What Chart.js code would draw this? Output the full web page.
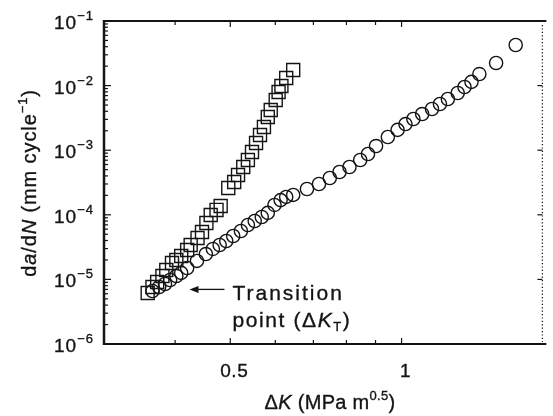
<!DOCTYPE html>
<html>
<head>
<meta charset="utf-8">
<script src="https://cdn.jsdelivr.net/npm/chart.js@4/dist/chart.umd.min.js"></script>
<style>
html,body{margin:0;padding:0;background:#fff;}
#wrap{width:553px;height:416px;position:relative;}
</style>
</head>
<body>
<div id="wrap"><canvas id="c" width="553" height="416"></canvas></div>
<script>
// ---- data (ΔK in MPa m^0.5, da/dN in mm/cycle) ----
const squareDK = [0.358,0.365,0.372,0.380,0.386,0.395,0.402,0.410,0.420,0.426,0.438,0.446,0.454,0.462,0.473,0.481,
                  0.496,0.508,0.516,0.527,0.537,0.546,0.555,0.564,0.573,0.582,0.589,0.601,0.608,0.615,0.627,0.645];
const squareRate = [6.16e-6,7.63e-6,9.12e-6,1.13e-5,1.40e-5,1.79e-5,2.00e-5,2.30e-5,2.85e-5,3.41e-5,4.37e-5,5.42e-5,7.47e-5,9.93e-5,1.19e-4,1.37e-4,
                    2.60e-4,3.22e-4,4.13e-4,5.49e-4,7.05e-4,9.38e-4,1.29e-3,1.72e-3,2.29e-3,3.27e-3,4.19e-3,5.98e-3,7.96e-3,9.86e-3,1.31e-2,1.74e-2];
const circleDK = [0.365,0.375,0.384,0.392,0.402,0.410,0.420,0.437,0.453,0.466,0.479,0.492,0.506,0.522,0.537,0.552,0.568,0.582,0.598,0.613,0.627,0.645,
                  0.682,0.716,0.748,0.778,0.810,0.846,0.873,0.902,0.946,0.984,1.016,1.049,1.087,1.131,1.168,1.206,1.255,1.290,1.327,1.370,1.466,1.587];
const circleRate = [6.61e-6,7.63e-6,8.49e-6,9.79e-6,1.13e-5,1.26e-5,1.50e-5,1.93e-5,2.47e-5,2.96e-5,3.41e-5,3.93e-5,4.70e-5,5.61e-5,6.95e-5,8.02e-5,9.24e-5,1.07e-4,1.42e-4,1.69e-4,1.89e-4,2.03e-4,
                    2.51e-4,3.00e-4,3.71e-4,4.60e-4,5.49e-4,7.05e-4,8.73e-4,1.16e-3,1.60e-3,2.06e-3,2.54e-3,3.04e-3,3.63e-3,4.34e-3,5.19e-3,6.20e-3,7.68e-3,9.51e-3,1.14e-2,1.51e-2,2.24e-2,4.25e-2];
const xLabelValues = [0.5, 1];
const xLabels = ['0.5', '1'];
const xOtherTicks = [0.4, 0.6, 0.7, 0.8, 0.9];
const yExponents = [-1, -2, -3, -4, -5, -6];
const yLabelBase = '10';
const xRange = [0.3, 1.768];
const yRange = [1e-6, 1e-1];
const annotationLines = ['Transition', 'point (ΔK'];
const transitionPoint = {x: 0.365, y: 7.0e-6};

const FONT = "'Liberation Sans', Arial, Helvetica, sans-serif";
const INK = '#141414';

function toXY(xs, ys) { return xs.map((v, i) => ({x: v, y: ys[i]})); }

function drawRuns(ctx, runs, x, y, align, spacing) {
  ctx.save();
  ctx.letterSpacing = (spacing || 0) + 'px';
  let total = 0;
  runs.forEach(r => { ctx.font = r.f; r.w = ctx.measureText(r.t).width; total += r.w; });
  let cx = align === 'center' ? x - total / 2 : (align === 'right' ? x - total : x);
  ctx.textAlign = 'left';
  ctx.textBaseline = 'alphabetic';
  ctx.lineWidth = 0.35;
  runs.forEach(r => {
    ctx.font = r.f;
    ctx.fillText(r.t, cx, y + (r.dy || 0));
    ctx.strokeText(r.t, cx, y + (r.dy || 0));
    cx += r.w;
  });
  ctx.restore();
}

const decor = {
  id: 'decor',
  afterDraw(chart) {
    const ctx = chart.ctx, xs = chart.scales.x, ys = chart.scales.y, a = chart.chartArea;
    ctx.save();
    ctx.fillStyle = INK; ctx.strokeStyle = INK;
    // frame
    ctx.lineWidth = 2.5;
    ctx.beginPath(); ctx.moveTo(a.left, a.top - 1); ctx.lineTo(a.left, a.bottom + 1); ctx.stroke();
    ctx.lineWidth = 2;
    ctx.beginPath(); ctx.moveTo(a.left - 1, a.bottom); ctx.lineTo(a.right + 4, a.bottom); ctx.stroke();
    ctx.beginPath(); ctx.moveTo(a.left - 1, a.top); ctx.lineTo(a.right + 4, a.top); ctx.stroke();
    // right dotted axis
    ctx.save(); ctx.lineWidth = 1.3; ctx.setLineDash([1.2, 2.2]);
    ctx.beginPath(); ctx.moveTo(a.right, a.top + 4); ctx.lineTo(a.right, a.bottom - 2); ctx.stroke();
    ctx.restore();
    // y ticks
    ctx.lineWidth = 1.2;
    for (let e = -6; e <= -1; e++) {
      for (let m = 1; m <= 9; m++) {
        const v = m * Math.pow(10, e);
        if (v < yRange[0] || v > yRange[1]) continue;
        const py = ys.getPixelForValue(v);
        const len = m === 1 ? 7 : 4;
        ctx.beginPath(); ctx.moveTo(a.left, py); ctx.lineTo(a.left + len, py); ctx.stroke();
        if (m === 1) { ctx.beginPath(); ctx.moveTo(a.right, py); ctx.lineTo(a.right - 5, py); ctx.stroke(); }
      }
    }
    // x ticks (top and bottom)
    xOtherTicks.concat(xLabelValues).forEach(v => {
      const px = xs.getPixelForValue(v);
      const len = xLabelValues.includes(v) ? 6 : 4;
      ctx.beginPath(); ctx.moveTo(px, a.bottom); ctx.lineTo(px, a.bottom - len); ctx.stroke();
      ctx.beginPath(); ctx.moveTo(px, a.top); ctx.lineTo(px, a.top + len); ctx.stroke();
    });
    // x tick labels
    xLabelValues.forEach((v, i) => {
      drawRuns(ctx, [{t: xLabels[i], f: '19px ' + FONT}], xs.getPixelForValue(v) + 4, a.bottom + 33, 'center', 0.6);
    });
    // y tick labels 10^e
    yExponents.forEach(e => {
      const py = ys.getPixelForValue(Math.pow(10, e));
      drawRuns(ctx, [{t: yLabelBase, f: '19px ' + FONT, dy: 0}, {t: '−' + Math.abs(e), f: '13px ' + FONT, dy: -9}],
        54, py + 8, 'left', 1);
    });
    // axis titles
    drawRuns(ctx, [
      {t: 'Δ', f: '20px ' + FONT}, {t: 'K', f: 'italic 20px ' + FONT},
      {t: ' (MPa m', f: '20px ' + FONT}, {t: '0.5', f: '13px ' + FONT, dy: -9},
      {t: ')', f: '20px ' + FONT}], 330, 409, 'center', 0.3);
    ctx.save();
    ctx.translate(36, 183); ctx.rotate(-Math.PI / 2);
    drawRuns(ctx, [
      {t: 'd', f: '20px ' + FONT}, {t: 'a', f: 'italic 20px ' + FONT},
      {t: '/d', f: '20px ' + FONT}, {t: 'N', f: 'italic 20px ' + FONT},
      {t: ' (mm cycle', f: '20px ' + FONT}, {t: '−1', f: '13px ' + FONT, dy: -9},
      {t: ')', f: '20px ' + FONT}], 0, 0, 'center', 0.9);
    ctx.restore();
    // annotation
    const tipX = xs.getPixelForValue(transitionPoint.x) + 37;
    const tipY = ys.getPixelForValue(transitionPoint.y) + 0;
    ctx.lineWidth = 1.3;
    ctx.beginPath(); ctx.moveTo(tipX + 6, tipY); ctx.lineTo(tipX + 35, tipY); ctx.stroke();
    ctx.beginPath(); ctx.moveTo(tipX, tipY); ctx.lineTo(tipX + 9, tipY - 3.5); ctx.lineTo(tipX + 9, tipY + 3.5); ctx.closePath(); ctx.fill();
    drawRuns(ctx, [{t: annotationLines[0], f: '21px ' + FONT}], tipX + 43, tipY + 11, 'left', 2);
    drawRuns(ctx, [{t: annotationLines[1].slice(0, -1), f: '21px ' + FONT}, {t: 'K', f: 'italic 21px ' + FONT},
      {t: 'T', f: '13px ' + FONT, dy: 4}, {t: ')', f: '21px ' + FONT}], tipX + 43, tipY + 38, 'left', 1.6);
    ctx.restore();
  }
};

new Chart(document.getElementById('c'), {
  type: 'scatter',
  data: {
    datasets: [
      {data: toXY(squareDK, squareRate), pointStyle: 'rect', pointRadius: 9.2, borderColor: INK,
       backgroundColor: 'rgba(0,0,0,0)', borderWidth: 1.4, pointHoverRadius: 9.2},
      {data: toXY(circleDK, circleRate), pointStyle: 'circle', pointRadius: 6.6, borderColor: INK,
       backgroundColor: 'rgba(0,0,0,0)', borderWidth: 1.4, pointHoverRadius: 6.6}
    ]
  },
  options: {
    responsive: false, animation: false, devicePixelRatio: 1,
    layout: {padding: {left: 104, top: 21, right: 4, bottom: 72}},
    plugins: {legend: {display: false}, tooltip: {enabled: false}},
    scales: {
      x: {type: 'logarithmic', min: xRange[0], max: xRange[1], display: false},
      y: {type: 'logarithmic', min: yRange[0], max: yRange[1], display: false}
    }
  },
  plugins: [decor]
});
</script>
</body>
</html>
